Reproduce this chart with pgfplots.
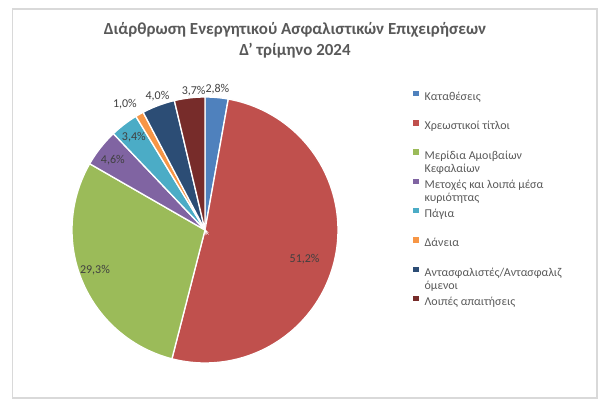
\documentclass[border=0pt]{standalone}
\usepackage{fontspec}
\setmainfont{Carlito}
\usepackage{pgfplots}
\usepackage{pgfplotstable}
\pgfplotsset{compat=1.18}

\definecolor{c1}{HTML}{4F81BD}
\definecolor{c2}{HTML}{C0504D}
\definecolor{c3}{HTML}{9BBB59}
\definecolor{c4}{HTML}{8064A2}
\definecolor{c5}{HTML}{4BACC6}
\definecolor{c6}{HTML}{F79646}
\definecolor{c7}{HTML}{2C4D75}
\definecolor{c8}{HTML}{772C2A}
\definecolor{frame}{HTML}{D9D9D9}
\definecolor{titlec}{HTML}{595959}
\definecolor{lblc}{HTML}{404040}

% share (%), colour, label distance (in radii), label angle nudge (deg)
\pgfplotstableread[col sep=comma]{
val,col,lr,da
2.8,c1,1.06,0
51.2,c2,0.78,-4
29.3,c3,0.88,-3
4.6,c4,0.87,1
3.4,c5,0.88,0
1.0,c6,1.12,3
4.0,c7,1.07,-1
3.7,c8,1.05,-2
}\piedata

\newcommand{\lgd}[1]{\raisebox{0pt}[7pt][2pt]{\parbox[t]{130pt}{\raggedright\fontsize{9}{9.75}\selectfont #1}}}

\begin{document}
\begin{tikzpicture}
\begin{scope}[x=0.75pt,y=-0.75pt]
  \path[use as bounding box] (0,0) rectangle (610,409);
  \draw[frame, line width=1.1pt] (12.5,9) rectangle (597,398);
  \node[font=\bfseries\fontsize{12.7}{15.75}\selectfont, text=titlec, align=center]
    at (295,40.5) {Διάρθρωση Ενεργητικού Ασφαλιστικών Επιχειρήσεων\\Δ' τρίμηνο 2024};
\end{scope}
\begin{axis}[
  at={(153.75pt,-172.5pt)}, anchor=center,
  width=199.5pt, height=199.5pt, scale only axis,
  xmin=-1, xmax=1, ymin=-1, ymax=1,
  hide axis, clip=false,
  /pgf/number format/assume math mode=true,
  legend cell align=left,
  legend style={at={(axis description cs:1.282,1.0237)}, anchor=north west,
    draw=none, fill=none, inner sep=0pt, row sep=13.3pt, column sep=4.5pt,
    font=\fontsize{9}{9.75}\selectfont, text=titlec,
    nodes={inner sep=0pt}},
  legend image code/.code={\fill[#1, draw=none] (0pt,0.4pt) rectangle (4pt,4.4pt);},
  legend entries={
    \lgd{Καταθέσεις},
    \lgd{Χρεωστικοί τίτλοι},
    \lgd{Μερίδια Αμοιβαίων\\Κεφαλαίων},
    \lgd{Μετοχές και λοιπά μέσα\\κυριότητας},
    \lgd{Πάγια},
    \lgd{Δάνεια},
    \lgd{Αντασφαλιστές/Αντασφαλιζ\\όμενοι},
    \lgd{Λοιπές απαιτήσεις}},
]
\gdef\cumS{0}
\pgfplotsforeachungrouped \i in {0,...,7} {
  \pgfplotstablegetelem{\i}{val}\of\piedata \let\valV\pgfplotsretval
  \pgfplotstablegetelem{\i}{col}\of\piedata \let\colC\pgfplotsretval
  \pgfplotstablegetelem{\i}{lr}\of\piedata \let\labR\pgfplotsretval
  \pgfplotstablegetelem{\i}{da}\of\piedata \let\labD\pgfplotsretval
  \pgfmathsetmacro\angA{90-3.6*\cumS}
  \pgfmathsetmacro\angB{90-3.6*(\cumS+\valV)}
  \pgfmathsetmacro\angM{(\angA+\angB)/2+\labD}
  \pgfmathsetmacro\cumS{\cumS+\valV}
  \edef\tmp{\noexpand\addplot[fill=\colC, draw=white, line width=1pt,
      domain=\angB:\angA, samples=90] ({cos(x)},{sin(x)}) -- (axis cs:0,0) -- cycle;}
  \tmp
  \edef\tmp{\noexpand\node[font=\noexpand\fontsize{9}{10}\noexpand\selectfont, text=lblc]
      at (axis cs:{\labR*cos(\angM)},{\labR*sin(\angM)})
      {\noexpand\pgfmathprintnumber[fixed,fixed zerofill,precision=1,use comma,assume math mode=true]{\valV}\noexpand\%};}
  \tmp
}
\end{axis}
\end{tikzpicture}
\end{document}
